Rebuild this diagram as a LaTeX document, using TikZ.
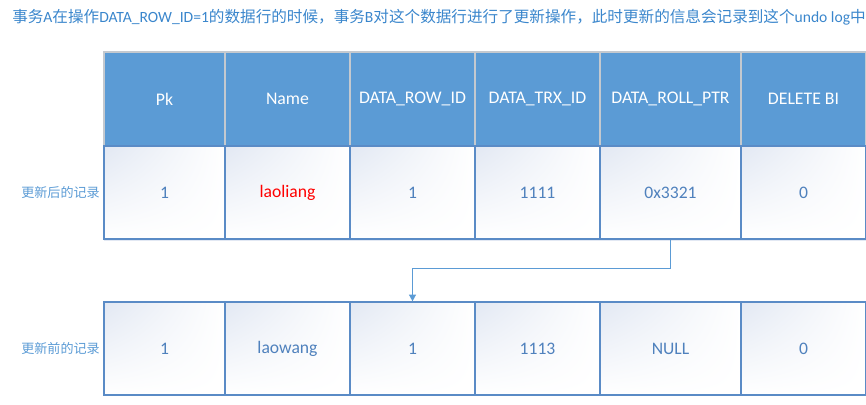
\documentclass[tikz,border=0pt]{standalone}
\usepackage{fontspec}
\setmainfont{Carlito}
\newfontfamily\cjk{Noto Sans CJK SC}
\usetikzlibrary{arrows.meta,shadings}
\definecolor{hdr}{HTML}{5B9BD5}
\definecolor{hdrline}{HTML}{C4C9CF}
\definecolor{cellline}{HTML}{5A8BC6}
\definecolor{celltxt}{HTML}{4F81BD}
\definecolor{ttl}{HTML}{3A86CC}
\definecolor{lbl}{HTML}{5B9BD5}
\definecolor{shadetl}{HTML}{E2E8F3}
\tikzset{
  hcell/.style={draw=hdrline, fill=hdr, line width=0.9pt, text=white, inner sep=0pt,
    minimum height=94*0.75pt, font=\fontsize{13.3}{14}\selectfont},
  dcell/.style={draw=cellline, line width=0.9pt, text=celltxt, inner sep=0pt,
    upper left=shadetl, upper right=white, lower left=white, lower right=white,
    minimum height=93*0.75pt, font=\fontsize{13.2}{14}\selectfont},
  rowlabel/.style={text=lbl, anchor=east, inner sep=0pt, font=\cjk\fontsize{9.8}{10}\selectfont},
  link/.style={draw=lbl, line width=1.1pt, -{Triangle[length=5pt,width=5pt]}}
}
\begin{document}
\begin{tikzpicture}[x=0.75pt,y=-0.75pt]
\useasboundingbox (0,0) rectangle (866,404);
% title
\node[anchor=west, inner sep=0pt, text=ttl, font=\fontsize{11.7}{13}\selectfont] (title) at (12,17)
 {{\cjk 事务}A{\cjk 在操作}DATA\_ROW\_ID=1{\cjk 的数据行的时候，事务}B{\cjk 对这个数据行进行了更新操作，此时更新的信息会记录到这个}undo log{\cjk 中}};
% header row
\node[hcell, minimum width=121*0.75pt] (h1) at (164.5,99) {Pk};
\node[hcell, minimum width=125*0.75pt] (h2) at (287.5,99) {Name};
\node[hcell, minimum width=125*0.75pt] (h3) at (412.5,99) {DATA\_ROW\_ID};
\node[hcell, minimum width=125*0.75pt] (h4) at (537.5,99) {DATA\_TRX\_ID};
\node[hcell, minimum width=141*0.75pt] (h5) at (670.5,99) {DATA\_ROLL\_PTR};
\node[hcell, minimum width=125*0.75pt] (h6) at (803.5,99) {DELETE BI};
% shadow line
\draw[draw=shadetl, line width=1.2pt] (104,240.5) -- (866,240.5);
% updated row
\node[dcell, minimum width=121*0.75pt] (t1) at (164.5,192.5) {1};
\node[dcell, minimum width=125*0.75pt, text=red] (t2) at (287.5,192.5) {laoliang};
\node[dcell, minimum width=125*0.75pt] (t3) at (412.5,192.5) {1};
\node[dcell, minimum width=125*0.75pt] (t4) at (537.5,192.5) {1111};
\node[dcell, minimum width=141*0.75pt] (t5) at (670.5,192.5) {0x3321};
\node[dcell, minimum width=125*0.75pt] (t6) at (803.5,192.5) {0};
\node[rowlabel] (l1) at (100,193) {更新后的记录};
% old row
\node[dcell, minimum width=121*0.75pt] (b1) at (164.5,348.5) {1};
\node[dcell, minimum width=125*0.75pt] (b2) at (287.5,348.5) {laowang};
\node[dcell, minimum width=125*0.75pt] (b3) at (412.5,348.5) {1};
\node[dcell, minimum width=125*0.75pt] (b4) at (537.5,348.5) {1113};
\node[dcell, minimum width=141*0.75pt] (b5) at (670.5,348.5) {NULL};
\node[dcell, minimum width=125*0.75pt] (b6) at (803.5,348.5) {0};
\node[rowlabel] (l2) at (100,349) {更新前的记录};
% pointer
\draw[link] (t5.south) -- ++(0,29) -| (b3.north);
\end{tikzpicture}
\end{document}
